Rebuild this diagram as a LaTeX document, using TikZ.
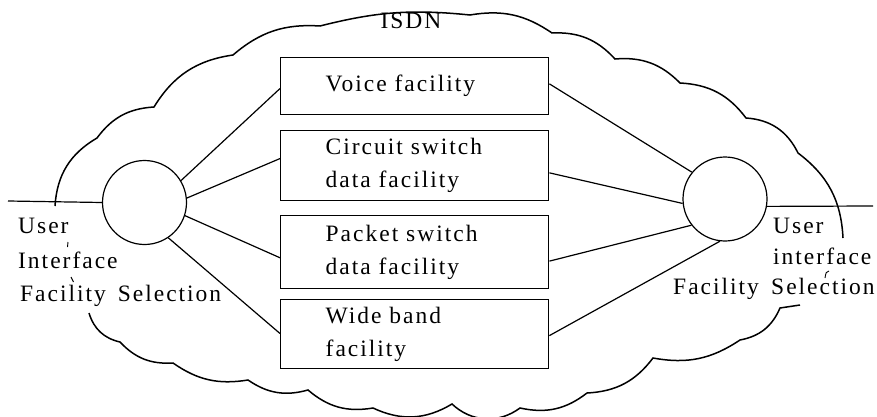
\documentclass[tikz,border=0pt]{standalone}
\usepackage{fontspec}
\setmainfont{Liberation Serif}[LetterSpace=8.5, WordSpace=1.5]
\usetikzlibrary{calc}
\begin{document}
\begin{tikzpicture}[x=1pt,y=-1pt,
  every node/.style={font=\fontsize{23.5}{33}\selectfont},
  fac/.style={draw, line width=1.4pt, minimum width=268pt, text width=178pt,
    inner xsep=45pt, inner ysep=0pt, align=left, anchor=north west},
  sel/.style={draw, circle, line width=1.2pt, minimum size=84pt, inner sep=0pt},
  lbl/.style={inner sep=0pt, anchor=base west},
  link/.style={line width=1.2pt},
  cloudline/.style={line width=1.5pt},
  tick/.style={line width=0.9pt}]
\useasboundingbox (0,0) rectangle (877,417);

% title
\node[inner sep=0pt] (isdn) at (411,21) {ISDN};

% facility boxes
\node[fac, minimum height=57pt] (b1) at (280,57) {Voice facility};
\node[fac, minimum height=70pt] (b2) at (280,130) {Circuit switch\\data facility};
\node[fac, minimum height=73pt] (b3) at (280,215) {Packet switch\\data facility};
\node[fac, minimum height=69pt] (b4) at (280,299) {Wide band\\facility};

% selection circles
\node[sel] (cl) at (144.5,202.5) {};
\node[sel] (cr) at (725,199) {};

% access lines
\coordinate (le) at (8,201);
\coordinate (re) at (873,206);
\draw[link] (le) -- (cl.west);
\draw[link] (cr.-10) -- (re);

% connectors left
\draw[link] (cl.31)  -- ($(b1.north west)!0.54!(b1.south west)$);
\draw[link] (cl.6)   -- ($(b2.north west)!0.40!(b2.south west)$);
\draw[link] (cl.-18) -- ($(b3.north west)!0.575!(b3.south west)$);
\draw[link] (cl.-56) -- ($(b4.north west)!0.49!(b4.south west)$);
% connectors right
\draw[link] (cr.141) -- ($(b1.north east)!0.46!(b1.south east)$);
\draw[link] (cr.186) -- ($(b2.north east)!0.60!(b2.south east)$);
\draw[link] (cr.218) -- ($(b3.north east)!0.62!(b3.south east)$);
\draw[link] (cr.263) -- ($(b4.north east)!0.52!(b4.south east)$);

% labels left
\node[lbl] (lu) at (18,233) {User};
\node[lbl] (li) at (18,268) {Interface};
\node[lbl] (lf) at (20,301) {Facility Selection};
% labels right
\node[lbl] (ru) at (773,233) {User};
\node[lbl] (ri) at (773,264) {interface};
\node[lbl] (rf) at (673,294) {Facility};
\node[lbl] (rs) at (771,294) {Selection};

% small marks
\draw[tick] (68,242) -- (67.5,247);
\draw[tick] (71,277) -- (73.5,282);
\draw[tick] (829,271) .. controls (826,272) .. (825,278);

% cloud, upper part
\draw[cloudline] (55,206) to[bend left=28] (97,138) to[bend left=25] (154,107)
  to[bend left=25] (233,55) to[bend left=22] (320,26) to[bend left=10] (470,15)
  to[bend left=22] (552,33) to[bend left=25] (615,59) to[bend left=25] (680,83)
  to[bend left=25] (746,118) to[bend left=30] (798,153) to[bend left=25] (843,238);
% cloud, lower part
\draw[cloudline] (89,313) to[bend right=30] (120,342) to[bend right=25] (173,363)
  to[bend right=22] (248,380) to[bend right=25] (308,390) to[bend right=25] (373,408)
  to[bend right=28] (452,404) to[bend right=40] (520,408) to[bend right=25] (587,393)
  to[bend right=25] (653,358) to[bend right=22] (740,340) to[bend right=28] (780,308)
  -- (800,305);
\end{tikzpicture}
\end{document}
